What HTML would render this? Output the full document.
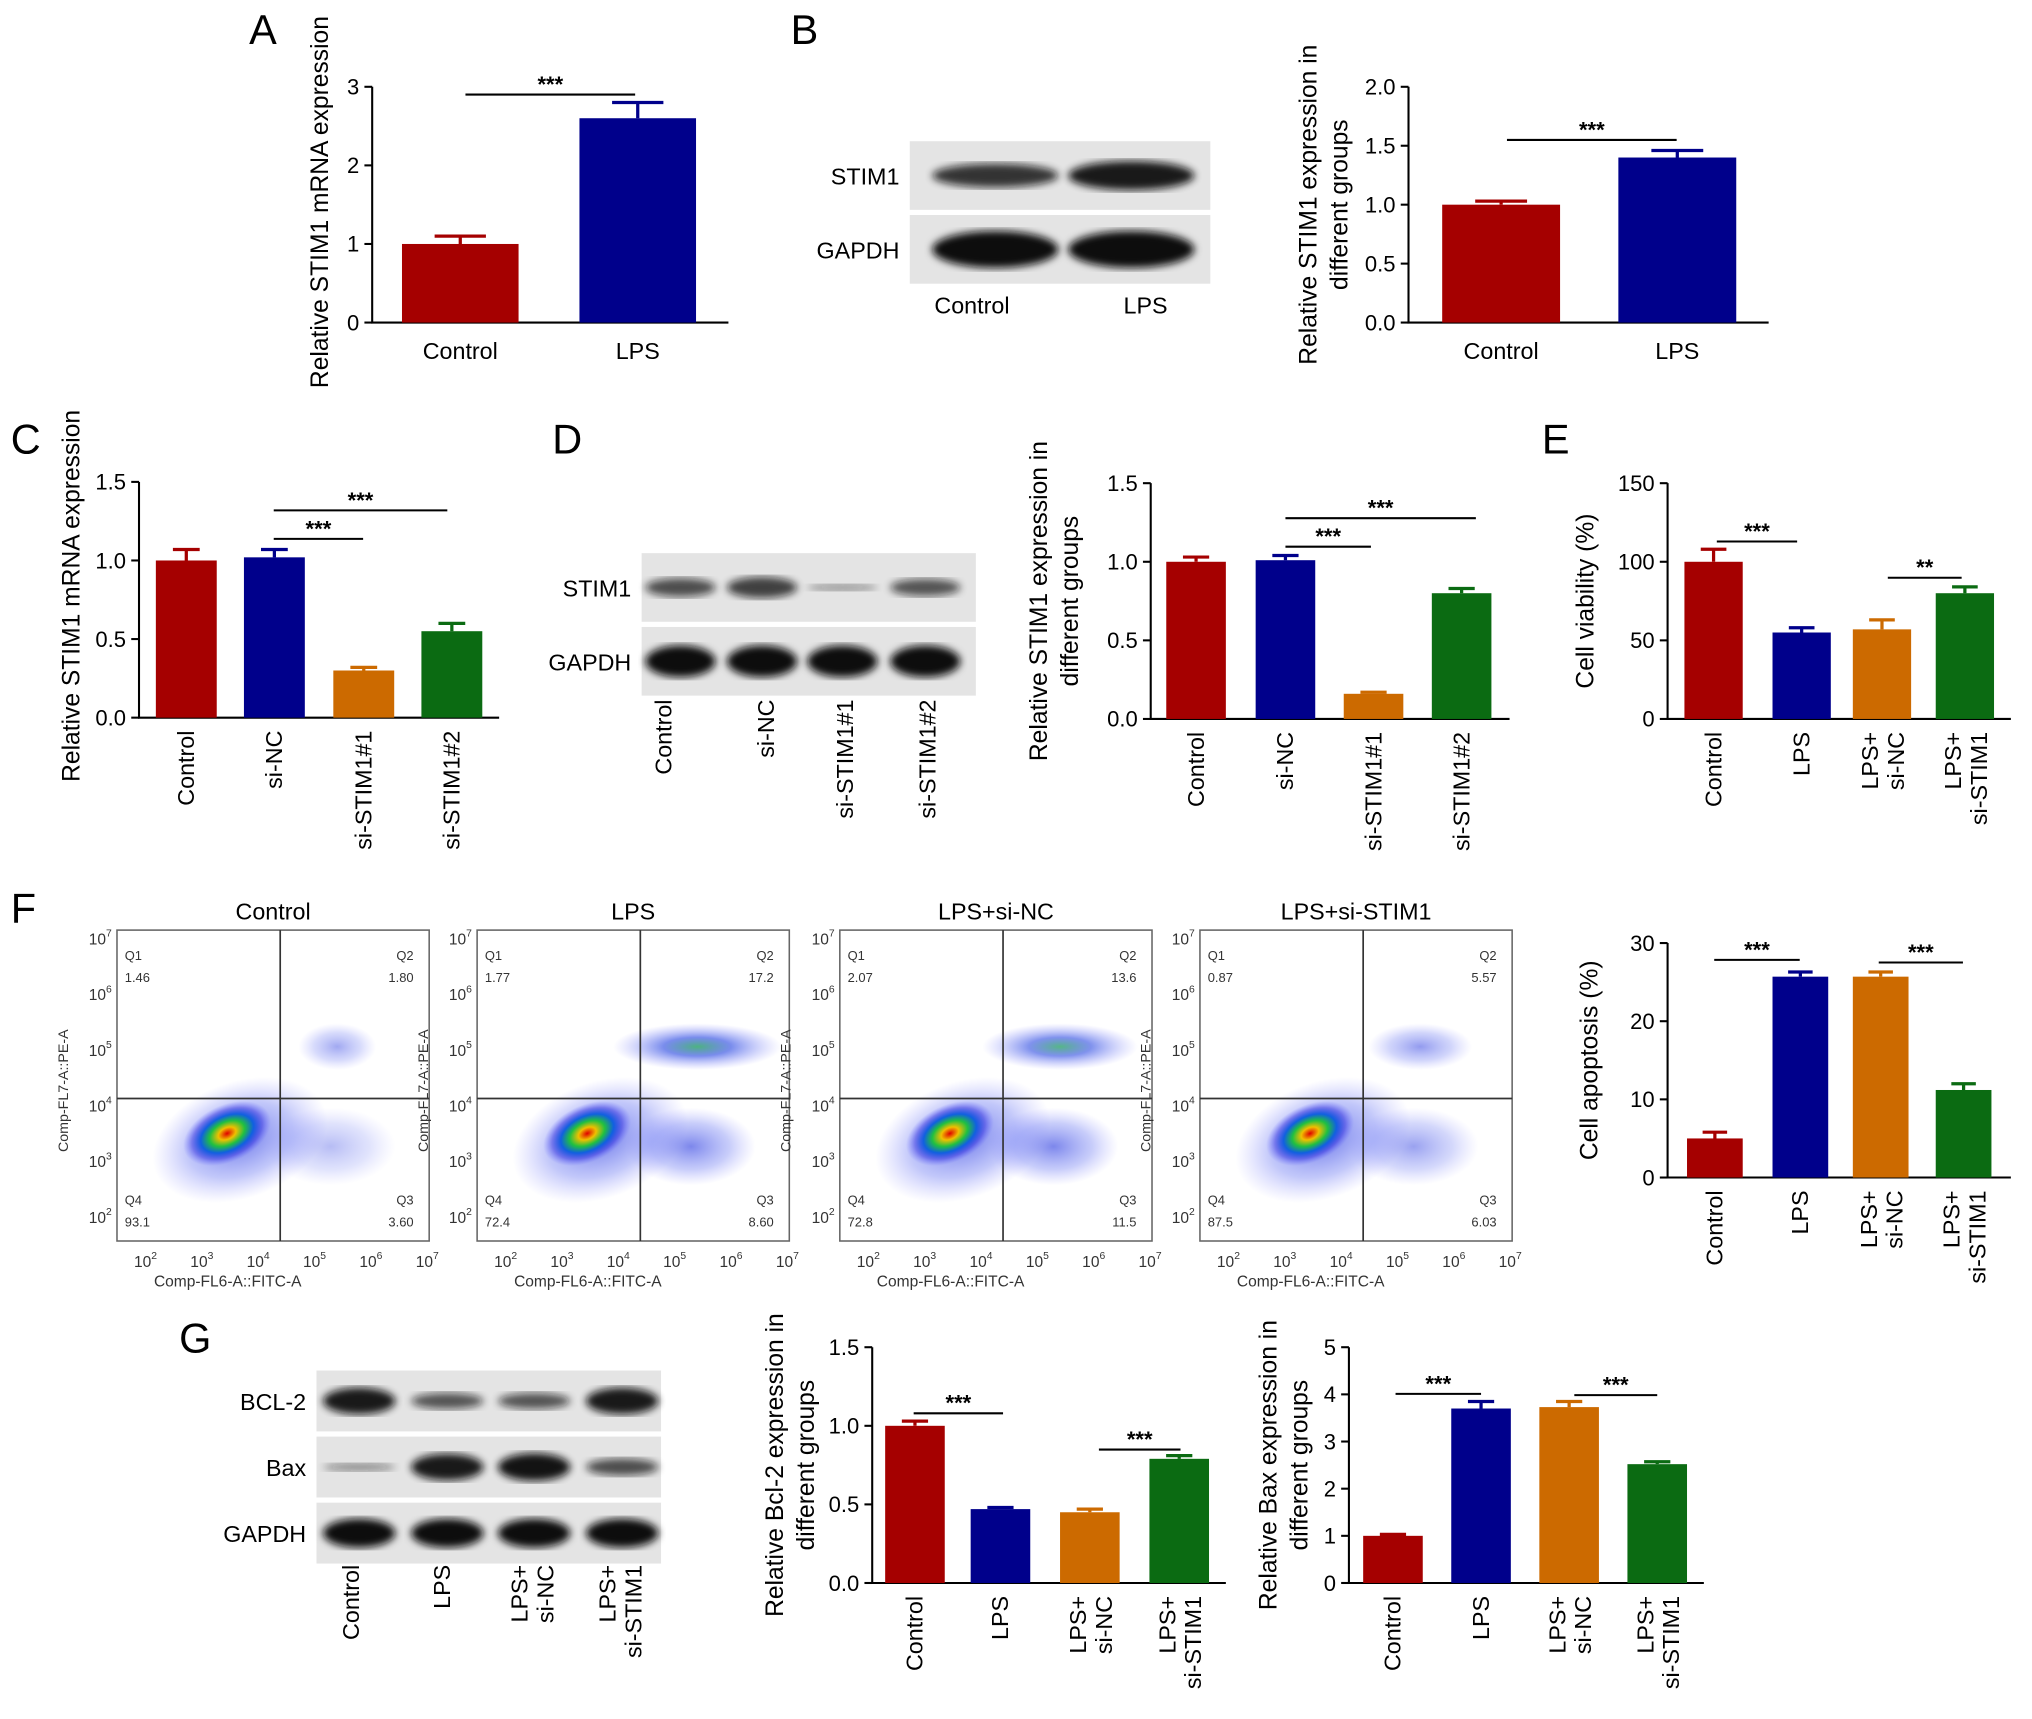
<!DOCTYPE html>
<html><head><meta charset="utf-8">
<style>
html,body{margin:0;padding:0;background:#fff;}
svg{display:block;font-family:"Liberation Sans",Arial,sans-serif;}
</style></head>
<body>
<svg id="fig" width="2032" height="1719" viewBox="0 0 1568 1327" xmlns="http://www.w3.org/2000/svg">
<defs>
<filter id="blur2"><feGaussianBlur stdDeviation="3"/></filter>
<radialGradient id="dens" cx="50%" cy="50%" r="50%">
<stop offset="0" stop-color="#e00000"/>
<stop offset="0.2" stop-color="#f0c000"/>
<stop offset="0.4" stop-color="#20c040"/>
<stop offset="0.6" stop-color="#1060e0"/>
<stop offset="0.8" stop-color="#3030e0" stop-opacity="0.5"/>
<stop offset="1" stop-color="#6060ff" stop-opacity="0"/>
</radialGradient>
<radialGradient id="halo" cx="50%" cy="50%" r="50%">
<stop offset="0" stop-color="#3040e0" stop-opacity="0.7"/>
<stop offset="0.6" stop-color="#5060f0" stop-opacity="0.35"/>
<stop offset="1" stop-color="#8080ff" stop-opacity="0"/>
</radialGradient>
<radialGradient id="halo2" cx="50%" cy="50%" r="50%">
<stop offset="0" stop-color="#20a060" stop-opacity="0.8"/>
<stop offset="0.4" stop-color="#2040e0" stop-opacity="0.6"/>
<stop offset="1" stop-color="#8080ff" stop-opacity="0"/>
</radialGradient>
</defs>
</svg>
<script>
const NS="http://www.w3.org/2000/svg";
const svg=document.getElementById('fig');
const RED="#a50000",BLUE="#00008b",ORANGE="#cc6a00",GREEN="#0b6b12";

// ---- data arrays ----
const catsA=["Control","LPS"]; const valsA=[1.0,2.6]; const errsA=[0.1,0.2]; const ticksA=[0,1,2,3];
const catsB=["Control","LPS"]; const valsB=[1.0,1.4]; const errsB=[0.03,0.06]; const ticksB=["0.0","0.5","1.0","1.5","2.0"];
const catsC=["Control","si-NC","si-STIM1#1","si-STIM1#2"]; const valsC=[1.0,1.02,0.3,0.55]; const errsC=[0.07,0.05,0.02,0.05]; const ticksC=["0.0","0.5","1.0","1.5"];
const catsD=["Control","si-NC","si-STIM1#1","si-STIM1#2"]; const valsD=[1.0,1.01,0.16,0.8]; const errsD=[0.03,0.03,0.01,0.03]; const ticksD=["0.0","0.5","1.0","1.5"];
const catsE=["Control","LPS","LPS+|si-NC","LPS+|si-STIM1"]; const valsE=[100,55,57,80]; const errsE=[8,3,6,4]; const ticksE=[0,50,100,150];
const catsF=["Control","LPS","LPS+|si-NC","LPS+|si-STIM1"]; const valsF=[5,25.7,25.7,11.2]; const errsF=[0.8,0.6,0.6,0.8]; const ticksF=[0,10,20,30];
const catsG1=["Control","LPS","LPS+|si-NC","LPS+|si-STIM1"]; const valsG1=[1.0,0.47,0.45,0.79]; const errsG1=[0.03,0.01,0.02,0.02]; const ticksG1=["0.0","0.5","1.0","1.5"];
const catsG2=["Control","LPS","LPS+|si-NC","LPS+|si-STIM1"]; const valsG2=[1.0,3.7,3.73,2.52]; const errsG2=[0.03,0.15,0.12,0.05]; const ticksG2=[0,1,2,3,4,5];
const flowTitles=["Control","LPS","LPS+si-NC","LPS+si-STIM1"];
const flowQ1=["1.46","1.77","2.07","0.87"];
const flowQ2=["1.80","17.2","13.6","5.57"];
const flowQ3=["3.60","8.60","11.5","6.03"];
const flowQ4=["93.1","72.4","72.8","87.5"];
const expLabels=["2","3","4","5","6","7"];

function mk(tag,attrs,parent,txt){const e=document.createElementNS(NS,tag);for(const k in attrs)e.setAttribute(k,attrs[k]);if(txt!==undefined)e.textContent=txt;(parent||svg).appendChild(e);return e;}

function chart(c){
  const g=mk('g',{});
  
  
  const ymax=+c.ticks[c.ticks.length-1];
  const Y=v=>c.yb-(v/ymax)*(c.yb-c.yt);
  const ax=mk('path',{d:`M${c.ax},${c.yt} V${c.yb} H${c.xe}`,stroke:'#000','stroke-width':1.6,fill:'none'},g);
  
  
  c.ticks.forEach(t=>{
    const y=Y(+t);
    mk('line',{x1:c.ax-6,x2:c.ax,y1:y,y2:y,stroke:'#000','stroke-width':1.6},g);
    const tl=mk('text',{x:c.ax-10,y:y+6,'text-anchor':'end','font-size':17},g,String(t));
    
    
  });
  c.vals.forEach((v,i)=>{
    const x=c.bx[i], w=c.bw, top=Y(v);
    const b=mk('rect',{x:x,y:top,width:w,height:c.yb-top,fill:c.colors[i]},g);
    
    
    const ye=Y(v+c.errs[i]), cx=x+w/2;
    mk('path',{d:`M${cx},${top} V${ye} M${cx-w*0.22},${ye} H${cx+w*0.22}`,stroke:c.colors[i],'stroke-width':2.5,fill:'none'},g);
    const lines=c.cats[i].split('|');
    let lab;
    if(c.rot){
      lab=mk('text',{transform:`translate(${cx+6-(lines.length-1)*9},${c.yb+10}) rotate(-90)`,'text-anchor':'end','font-size':18},g);
      lines.forEach((l,j)=>mk('tspan',{x:0,dy:j?20:0},lab,l));
    } else {
      lab=mk('text',{x:cx,y:c.yb+28,'text-anchor':'middle','font-size':18},g,lines[0]);
    }
    
    
  });
  const tt=mk('text',{transform:`translate(${c.tx},${(c.yt+c.yb)/2+ (c.tdy||0)}) rotate(-90)`,'text-anchor':'middle','font-size':19},g);
  c.title.forEach((l,j)=>mk('tspan',{x:0,dy:j?24:0},tt,l));
  
  
  (c.sig||[]).forEach(s=>{
    mk('line',{x1:s[0],x2:s[1],y1:s[2],y2:s[2],stroke:'#000','stroke-width':1.6},g);
    const st=mk('text',{x:(s[0]+s[1])/2,y:s[2]-2,'text-anchor':'middle','font-size':17,'font-weight':'bold'},g,s[3]);
    
    
  });
}
function letter(t,x,y){const l=mk('text',{x:x,y:y,'font-size':32},svg,t);}
function blot(name,x,y,w,h,rows,lanes,bands){
  const g=mk('g',{});
  
  
  rows.forEach((r,ri)=>{
    const ry=y+ri*h;
    mk('rect',{x:x,y:ry+2,width:w,height:h-4,fill:'#e4e4e4'},g);
    lanes.forEach((lx,li)=>{
      const s=bands[ri][li];
      if(s>0) mk('ellipse',{cx:lx,cy:ry+h/2,rx:w/lanes.length*0.42,ry:h*0.18*s+2,fill:'#111',opacity:Math.min(1,0.4+s*0.6),filter:'url(#blur2)'},g);
    });
    const t=mk('text',{x:x-8,y:ry+h/2+7,'text-anchor':'end','font-size':18},g,r);
    
    
  });
}

letter('A',192,34); letter('B',610,34); letter('C',8,350); letter('D',426,350); letter('E',1190,350); letter('F',8,712); letter('G',138,1044);

chart({name:'chart-a',cats:catsA,vals:valsA,errs:errsA,ticks:ticksA,ax:287,yt:67,yb:249,xe:562,bx:[310,447],bw:90,colors:[RED,BLUE],rot:false,tx:253,title:["Relative STIM1 mRNA expression"],tdy:-2,sig:[[359,490,73,'***']]});
blot('western-blot-b',702,107,232,57,["STIM1","GAPDH"],[768,873],[[0.7,0.9],[1.2,1.2]]);
mk('text',{x:750,y:242,'text-anchor':'middle','font-size':18},svg,'Control');
mk('text',{x:884,y:242,'text-anchor':'middle','font-size':18},svg,'LPS');
chart({name:'chart-b',cats:catsB,vals:valsB,errs:errsB,ticks:ticksB,ax:1087,yt:67,yb:249,xe:1365,bx:[1113,1249],bw:91,colors:[RED,BLUE],rot:false,tx:1016,title:["Relative STIM1 expression in","different groups"],tdy:0,sig:[[1163,1294,108,'***']]});

chart({name:'chart-c',cats:catsC,vals:valsC,errs:errsC,ticks:ticksC,ax:107,yt:372,yb:554,xe:385,bx:[120,188,257,325],bw:47,colors:[RED,BLUE,ORANGE,GREEN],rot:true,tx:61,title:["Relative STIM1 mRNA expression"],tdy:-3,sig:[[211,280,416,'***'],[211,345,394,'***']]});
blot('western-blot-d',495,425,258,57,["STIM1","GAPDH"],[525,588,650,714],[[0.5,0.6,0.05,0.45],[1,1,1,1]]);
['Control','si-NC','si-STIM1#1','si-STIM1#2'].forEach((t,i)=>{const e=mk('text',{transform:`translate(${[518,597,658,722][i]},${540}) rotate(-90)`,'text-anchor':'end','font-size':18},svg,t);});
chart({name:'chart-d',cats:catsD,vals:valsD,errs:errsD,ticks:ticksD,ax:888,yt:373,yb:555,xe:1165,bx:[900,969,1037,1105],bw:46,colors:[RED,BLUE,ORANGE,GREEN],rot:true,tx:808,title:["Relative STIM1 expression in","different groups"],tdy:0,sig:[[992,1058,422,'***'],[992,1139,400,'***']]});
chart({name:'chart-e',cats:catsE,vals:valsE,errs:errsE,ticks:ticksE,ax:1287,yt:373,yb:555,xe:1552,bx:[1300,1368,1430,1494],bw:45,colors:[RED,BLUE,ORANGE,GREEN],rot:true,tx:1230,title:["Cell viability (%)"],sig:[[1325,1387,418,'***'],[1457,1514,446,'**']]});

// Flow plots
const flowX=[90,368,648,926];
flowX.forEach((x0,i)=>{
  const g=mk('g',{});
  
  
  const y0=718,w=241,h=240, qx=x0+126, qy=848;
  const tt=mk('text',{x:x0+w/2,y:710,'text-anchor':'middle','font-size':18},g,flowTitles[i]);
  
  
  mk('ellipse',{cx:x0+95,cy:880,rx:70,ry:45,fill:'url(#halo)',transform:`rotate(-20 ${x0+95} 880)`},g);
  mk('ellipse',{cx:x0+165,cy:885,rx:50,ry:30,fill:'url(#halo)',opacity:i===0?0.5:(i===3?0.7:0.9)},g);
  mk('ellipse',{cx:x0+85,cy:875,rx:36,ry:22,fill:'url(#dens)',transform:`rotate(-25 ${x0+85} 875)`},g);
  const q2=[0.3,1,0.9,0.5][i];
  mk('ellipse',{cx:x0+170,cy:808,rx:50*q2+15,ry:18,fill:i==1||i==2?'url(#halo2)':'url(#halo)',opacity:0.5+q2*0.5},g);
  mk('rect',{x:x0,y:y0,width:w,height:h,fill:'none',stroke:'#666','stroke-width':1.2},g);
  mk('line',{x1:qx,x2:qx,y1:y0,y2:y0+h,stroke:'#333','stroke-width':1.3},g);
  mk('line',{x1:x0,x2:x0+w,y1:qy,y2:qy,stroke:'#333','stroke-width':1.3},g);
  [['Q1',x0+6,741,'start'],[flowQ1[i],x0+6,758,'start'],['Q2',x0+w-12,741,'end'],[flowQ2[i],x0+w-12,758,'end'],
   ['Q4',x0+6,930,'start'],[flowQ4[i],x0+6,947,'start'],['Q3',x0+w-12,930,'end'],[flowQ3[i],x0+w-12,947,'end']].forEach(q=>{
    const t=mk('text',{x:q[1],y:q[2],'text-anchor':q[3],'font-size':10,fill:'#333'},g,q[0]);
    
    
  });
  expLabels.forEach((e,k)=>{
    const xt=x0+22+k*43.5;
    const t=mk('text',{x:xt,y:978,'text-anchor':'middle','font-size':12,fill:'#333'},g);
    mk('tspan',{},t,'10');mk('tspan',{dy:-6,'font-size':8},t,e);
    
    
  });
  expLabels.forEach((e,k)=>{
    const yt=940-k*43;
    const t=mk('text',{x:x0-4,y:yt+4,'text-anchor':'end','font-size':12,fill:'#333'},g);
    mk('tspan',{},t,'10');mk('tspan',{dy:-6,'font-size':8},t,e);
    
    
  });
  const xt=mk('text',{x:x0+w/2-35,y:993,'text-anchor':'middle','font-size':12,fill:'#333'},g,'Comp-FL6-A::FITC-A');
  
  
  const yt=mk('text',{transform:`translate(${x0-38},842) rotate(-90)`,'text-anchor':'middle','font-size':11,fill:'#333'},g,'Comp-FL7-A::PE-A');
  
  
});
chart({name:'chart-f',cats:catsF,vals:valsF,errs:errsF,ticks:ticksF,ax:1287,yt:728,yb:909,xe:1552,bx:[1302,1368,1430,1494],bw:43,colors:[RED,BLUE,ORANGE,GREEN],rot:true,tx:1233,title:["Cell apoptosis (%)"],sig:[[1323,1389,741,'***'],[1450,1515,743,'***']]});

blot('western-blot-g',244,1056,266,51,["BCL-2","Bax","GAPDH"],[277,345,412,480],[[0.9,0.45,0.45,0.9],[0.1,0.9,0.95,0.5],[1,1,1,1]]);
[['Control'],['LPS'],['LPS+','si-NC'],['LPS+','si-STIM1']].forEach((l,i)=>{const e=mk('text',{transform:`translate(${[277,347,407,475][i]},1208) rotate(-90)`,'text-anchor':'end','font-size':18},svg);l.forEach((s,j)=>mk('tspan',{x:0,dy:j?20:0},e,s));});
chart({name:'chart-g-bcl2',cats:catsG1,vals:valsG1,errs:errsG1,ticks:ticksG1,ax:673,yt:1040,yb:1222,xe:946,bx:[683,749,818,887],bw:46,colors:[RED,BLUE,ORANGE,GREEN],rot:true,tx:604,title:["Relative Bcl-2 expression in","different groups"],tdy:0,sig:[[705,774,1091,'***'],[848,911,1119,'***']]});
chart({name:'chart-g-bax',cats:catsG2,vals:valsG2,errs:errsG2,ticks:ticksG2,ax:1041,yt:1040,yb:1222,xe:1315,bx:[1052,1120,1188,1256],bw:46,colors:[RED,BLUE,ORANGE,GREEN],rot:true,tx:985,title:["Relative Bax expression in","different groups"],tdy:0,sig:[[1077,1143,1076,'***'],[1215,1279,1077,'***']]});
</script>
</body></html>
